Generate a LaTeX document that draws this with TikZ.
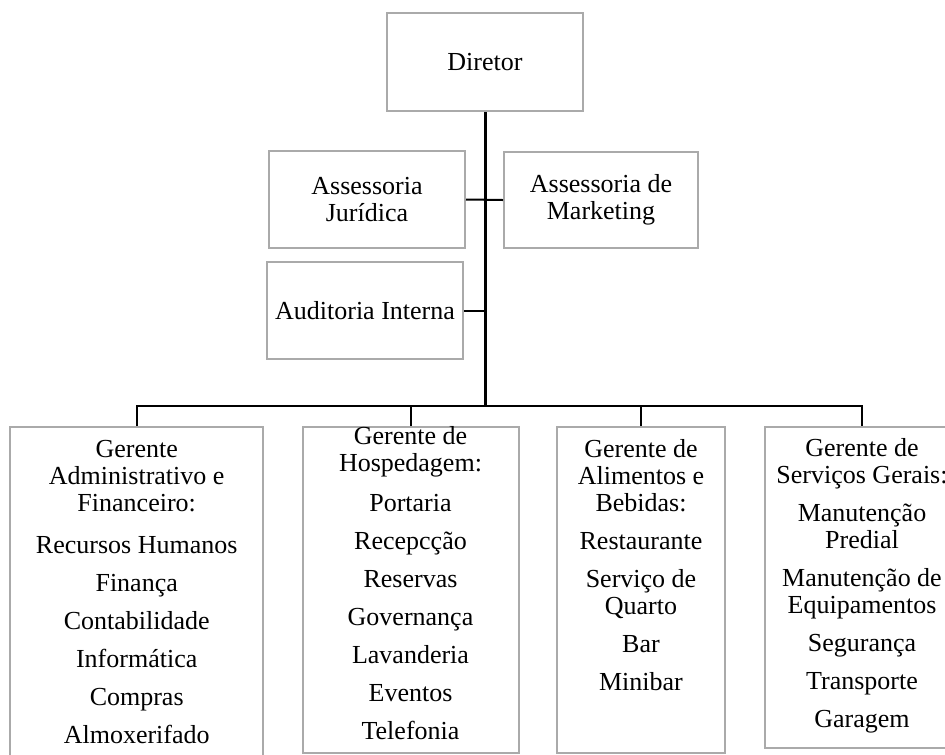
\documentclass[tikz,border=0pt]{standalone}
\usepackage{fontspec}
\setmainfont{Liberation Serif}
\usetikzlibrary{positioning}
\definecolor{boxgray}{RGB}{170,170,170}
\tikzset{
  box/.style={draw=boxgray, line width=1.5pt, rectangle, inner sep=0pt, align=center,
    font=\fontsize{19.5}{20.6}\selectfont},
  list/.style={inner sep=0pt, align=center, font=\fontsize{19.5}{20.25}\selectfont},
  conn/.style={line width=1.5pt},
  trunk/.style={line width=2.25pt}
}
\begin{document}
\begin{tikzpicture}[x=0.75pt, y=-0.75pt]
    \useasboundingbox (0,0) rectangle (945,754);
    \clip (0,0) rectangle (945,754);

    % upper boxes
    \node[box, minimum width=147pt, minimum height=73.5pt] (dir) at (485,62) {Diretor};
    \node[box, minimum width=147pt, minimum height=73pt] (jur) at (367,199.5) {Assessoria\\Jurídica};
    \node[box, minimum width=145.5pt, minimum height=72.4pt] (mkt) at (601,200) {Assessoria de\\Marketing};
    \node[box, minimum width=147pt, minimum height=73pt] (aud) at (365,310.5) {Auditoria Interna};

    % lower boxes
    \node[box, anchor=north, minimum width=190pt, minimum height=252pt] (adm) at (136.7,426) {};
    \node[box, anchor=north, minimum width=162pt, minimum height=244.5pt] (hosp) at (410.5,426) {};
    \node[box, anchor=north, minimum width=126pt, minimum height=244.5pt] (alim) at (641,426) {};
    \node[box, anchor=north, minimum width=145.5pt, minimum height=240.75pt] (serv) at (862,426) {};

    \node[list, below=10.5pt of adm.north] (admtxt) {Gerente\\Administrativo e\\Financeiro:\\[11.25pt]
      Recursos Humanos\\[8.25pt]Finança\\[8.25pt]Contabilidade\\[8.25pt]Informática\\[8.25pt]Compras\\[8.25pt]Almoxerifado};
    \node[list, below=0pt of hosp.north] (hosptxt) {Gerente de\\Hospedagem:\\[9.75pt]
      Portaria\\[8.25pt]Recepcção\\[8.25pt]Reservas\\[8.25pt]Governança\\[8.25pt]Lavanderia\\[8.25pt]Eventos\\[8.25pt]Telefonia};
    \node[list, below=9.75pt of alim.north] (alimtxt) {Gerente de\\Alimentos e\\Bebidas:\\[8.25pt]
      Restaurante\\[8.25pt]Serviço de\\Quarto\\[8.25pt]Bar\\[8.25pt]Minibar};
    \node[list, below=9pt of serv.north] (servtxt) {Gerente de\\Serviços Gerais:\\[8.25pt]
      Manutenção\\Predial\\[8.25pt]Manutenção de\\Equipamentos\\[8.25pt]Segurança\\[8.25pt]Transporte\\[8.25pt]Garagem};

    % connectors
    \coordinate (bus) at (485,406);
    \draw[trunk] (dir.south) -- (bus);
    \draw[conn] (jur.east) -- (mkt.west);
    \draw[conn] (aud.east) -- (aud.east -| dir.south);
    \draw[conn] (adm.north) |- (bus) -| (serv.north);
    \draw[conn] (hosp.north) -- (hosp.north |- bus);
    \draw[conn] (alim.north) -- (alim.north |- bus);
\end{tikzpicture}
\end{document}
